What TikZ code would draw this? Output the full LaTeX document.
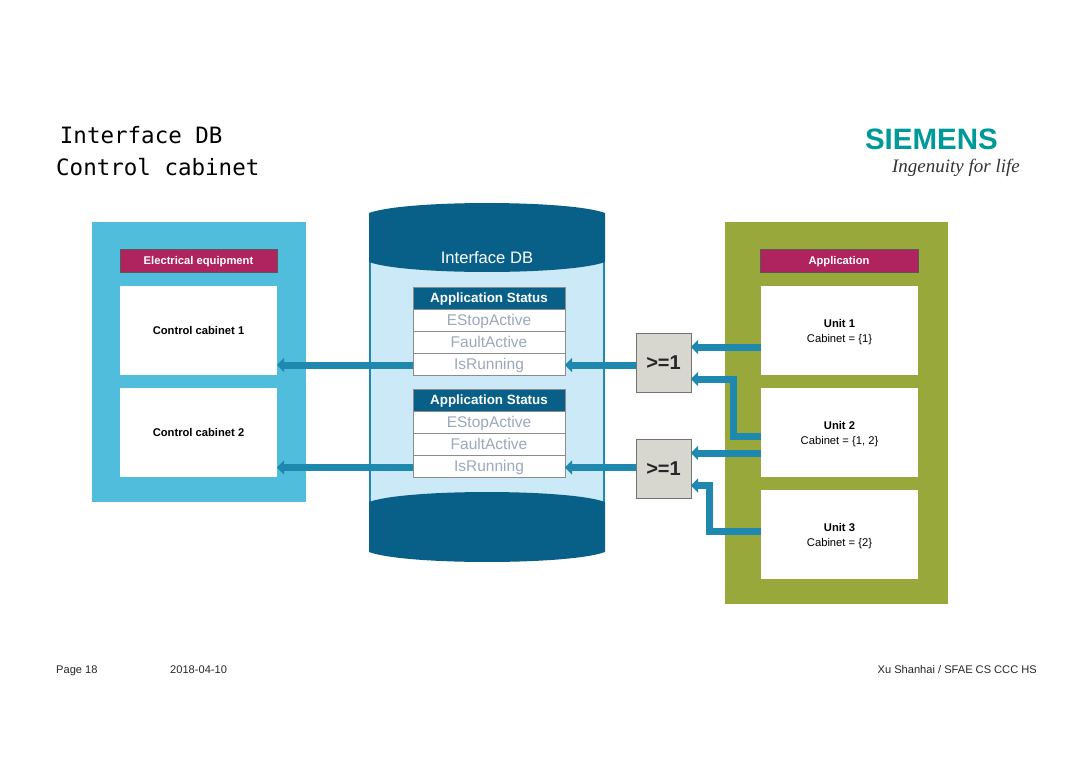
\documentclass[tikz,border=0pt]{standalone}
\usepackage{fontspec}
\setmainfont{Liberation Sans}
\newfontfamily\titlefont{DejaVu Sans Mono}
\newfontfamily\sloganfont{Liberation Serif}
\usetikzlibrary{arrows.meta}

\definecolor{cabinetblue}{HTML}{50BDDC}
\definecolor{appgreen}{HTML}{98A83B}
\definecolor{labelred}{HTML}{AF235F}
\definecolor{dbdark}{HTML}{086089}
\definecolor{dblight}{HTML}{CBE9F7}
\definecolor{flowblue}{HTML}{1F88AF}
\definecolor{rowtext}{HTML}{9AA9BB}
\definecolor{gategray}{HTML}{D7D7CF}
\definecolor{logoteal}{HTML}{009999}

\tikzset{
  panel/.style={rectangle,outer sep=0pt,inner sep=0pt},
  tag/.style={panel,draw=black!65,line width=0.7pt,fill=labelred,text=white,minimum height=23pt,
    text height=10pt,text depth=2pt,font=\fontsize{11.2}{13}\selectfont\bfseries},
  unitbox/.style={panel,fill=white,minimum width=157pt,minimum height=89pt,align=center,
    text depth=0pt,font=\fontsize{11.2}{15}\selectfont},
  head/.style={panel,draw=black!45,line width=1pt,fill=dbdark,text=white,minimum width=152pt,minimum height=22pt,
    text height=11pt,text depth=2pt,font=\fontsize{13.4}{15}\selectfont\bfseries},
  row/.style={panel,draw=black!45,line width=1pt,fill=white,text=rowtext,minimum width=152pt,minimum height=22pt,
    text height=13pt,text depth=2pt,font=\fontsize{15.5}{18}\selectfont},
  gate/.style={panel,draw=black!55,line width=1pt,fill=gategray,text=black!85,minimum width=55pt,minimum height=59pt,
    font=\fontsize{20}{24}\selectfont\bfseries},
  foot/.style={inner sep=0pt,font=\fontsize{11.1}{14}\selectfont,text=black!85},
  flow/.style={flowblue,line width=7pt,-{Triangle[length=7pt,width=14pt]}}
}

\begin{document}
\begin{tikzpicture}[x=1pt,y=-1pt]
\useasboundingbox (0,0) rectangle (1080,763);

% Title
\node[inner sep=0pt,anchor=north west,align=left,font=\fontsize{22.5}{32}\titlefont] (title) at (56,126.5)
  {\,Interface DB\\Control cabinet};

% Logo
\node[inner sep=0pt,anchor=base east,text=logoteal,font=\fontsize{29.5}{32}\selectfont\bfseries] (siemens) at (998,149) {SIEMENS};
\node[inner sep=0pt,anchor=base east,text=black!80,font=\fontsize{19}{24}\sloganfont\itshape] (slogan) at (1020,172) {Ingenuity for life};

% Electrical equipment
\node[panel,fill=cabinetblue,minimum width=214pt,minimum height=280pt] (equipment) at (199,362) {};
\node[tag,minimum width=157pt] (equiptag) at (198.5,260.5) {Electrical equipment};
\node[unitbox] (cab1) at (198.5,330.5) {\bfseries Control cabinet 1};
\node[unitbox] (cab2) at (198.5,432.5) {\bfseries Control cabinet 2};

% Interface DB
\fill[dblight] (370,250) rectangle (604,510);
\draw[flowblue,line width=1.8pt] (370,262) -- (370,502) (604,262) -- (604,502);
\fill[dbdark] (369,213) .. controls (405,199.7) and (569,199.7) .. (605,213) -- (605,262)
  .. controls (569,275.3) and (405,275.3) .. (369,262) -- cycle;
\fill[dbdark] (369,502) .. controls (405,488.7) and (569,488.7) .. (605,502) -- (605,552)
  .. controls (569,565.3) and (405,565.3) .. (369,552) -- cycle;
\node[text=white,inner sep=0pt,font=\fontsize{16.6}{18}\selectfont] (dbname) at (487,258) {Interface DB};

% Status tables
\node[head] (status1) at (489,298) {Application Status};
\node[row] (estop1) at (489,320) {EStopActive};
\node[row] (fault1) at (489,342) {FaultActive};
\node[row] (run1) at (489,364) {IsRunning};
\node[head] (status2) at (489,400) {Application Status};
\node[row] (estop2) at (489,422) {EStopActive};
\node[row] (fault2) at (489,444) {FaultActive};
\node[row] (run2) at (489,466) {IsRunning};

% OR gates
\node[gate] (or1) at (663.5,362.5) {>=1};
\node[gate] (or2) at (663.5,468.5) {>=1};

% Application
\node[panel,fill=appgreen,minimum width=223pt,minimum height=382pt] (application) at (836.5,413) {};
\node[tag,minimum width=158pt] (apptag) at (839,260.5) {Application};
\node[unitbox] (unit1) at (839.5,330.5) {\textbf{Unit 1}\\Cabinet = \{1\}};
\node[unitbox] (unit2) at (839.5,432.5) {\textbf{Unit 2}\\Cabinet = \{1, 2\}};
\node[unitbox] (unit3) at (839.5,534.5) {\textbf{Unit 3}\\Cabinet = \{2\}};

% Arrows
\draw[flow] ([yshift=-1pt]run1.west) -- ([yshift=-1pt]run1.west -| cab1.east);
\draw[flow] ([yshift=-1.5pt]run2.west) -- ([yshift=-1.5pt]run2.west -| cab2.east);
\draw[flow] ([yshift=-1pt]run1.east -| or1.west) -- ([yshift=-1pt]run1.east);
\draw[flow] ([yshift=-1.5pt]run2.east -| or2.west) -- ([yshift=-1.5pt]run2.east);
\draw[flow] ([yshift=-16.5pt]unit1.west) -- ([yshift=15.5pt]or1.east);
\draw[flow] ([yshift=-3.5pt]unit2.west) -- ++(-28,0) |- ([yshift=-16.5pt]or1.east);
\draw[flow] ([yshift=-20.5pt]unit2.west) -- ([yshift=15.5pt]or2.east);
\draw[flow] ([yshift=3.5pt]unit3.west) -- ++(-52,0) |- ([yshift=-17pt]or2.east);

% Footer
\node[foot,anchor=base west] (page) at (56,673) {Page 18};
\node[foot,anchor=base west] (date) at (170,673) {2018-04-10};
\node[foot,anchor=base east] (owner) at (1037,673) {Xu Shanhai / SFAE CS CCC HS};
\end{tikzpicture}
\end{document}
